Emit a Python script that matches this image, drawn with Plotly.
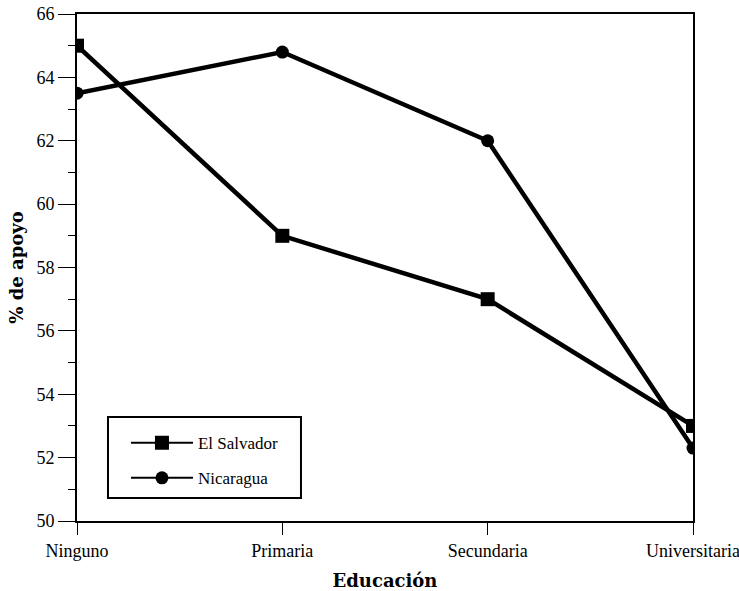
import plotly.graph_objects as go

categories = ["Ninguno", "Primaria", "Secundaria", "Universitaria"]
el_salvador = [65.0, 59.0, 57.0, 53.0]
nicaragua = [63.5, 64.8, 62.0, 52.3]
y_ticks = [50, 52, 54, 56, 58, 60, 62, 64, 66]
series = [("El Salvador", el_salvador, "square", 14), ("Nicaragua", nicaragua, "circle", 13)]

fig = go.Figure()
for name, vals, sym, size in series:
    fig.add_trace(go.Scatter(
        x=categories, y=vals, name=name, mode="lines+markers",
        line=dict(color="black", width=4.5),
        marker=dict(symbol=sym, size=size, color="black"),
        showlegend=False,
    ))
for name, vals, sym, size in series:
    fig.add_trace(go.Scatter(
        x=[categories[0]], y=[None], name=name, mode="lines+markers",
        line=dict(color="black", width=2),
        marker=dict(symbol=sym, size=size, color="black"),
        legendgroup=name, showlegend=True,
    ))

font_family = "Liberation Serif"
title_font = dict(family="DejaVu Serif", size=18, color="black", weight="bold")

# legend frame (drawn as a shape, legend itself has no border)
fig.add_shape(type="rect", xref="paper", yref="paper",
              x0=0.0503, x1=0.3636, y0=0.0454, y1=0.2050,
              line=dict(color="black", width=2), fillcolor="white", layer="above")

fig.update_layout(
    width=739, height=591,
    margin=dict(l=77, r=46, t=14, b=70),
    paper_bgcolor="white", plot_bgcolor="white",
    font=dict(family=font_family, size=18, color="black"),
    showlegend=True,
    legend=dict(
        x=0.0795, y=0.1890, xanchor="left", yanchor="top",
        borderwidth=0, bgcolor="rgba(0,0,0,0)",
        font=dict(family=font_family, size=17, color="black"),
        itemwidth=62, tracegroupgap=10,
    ),
)
fig.update_xaxes(
    type="category", range=[0, 3], automargin=False,
    showline=True, linecolor="black", linewidth=2, mirror=True,
    ticks="outside", ticklen=12, tickwidth=1, tickcolor="black",
    showgrid=False, zeroline=False,
    tickfont=dict(size=18),
    title=dict(text="Educación", font=title_font, standoff=16),
)
fig.update_yaxes(
    range=[50, 66], tickvals=y_ticks, automargin=False,
    showline=True, linecolor="black", linewidth=2, mirror=True,
    ticks="outside", ticklen=17, tickwidth=1, tickcolor="black",
    minor=dict(dtick=1, ticks="outside", ticklen=7, tickcolor="black", tickwidth=1, showgrid=False),
    showgrid=False, zeroline=False,
    tickfont=dict(size=18),
    title=dict(text="% de apoyo", font=title_font, standoff=8),
)
fig.write_html("out.html", config={"displayModeBar": False},
               post_script="document.body.style.margin='0px';")
